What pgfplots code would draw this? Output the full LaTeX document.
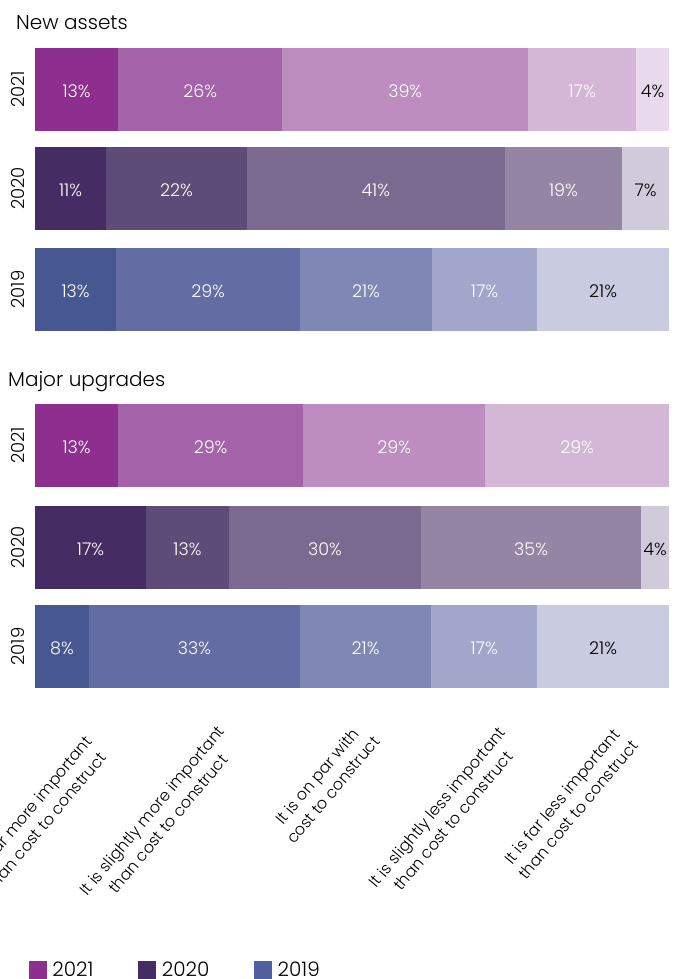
\documentclass[border=0pt]{standalone}
\usepackage{fontspec}
\setmainfont{Poppins}[UprightFont={* Light}]
\usepackage{pgfplots}
\pgfplotsset{compat=1.18}
\definecolor{c21a}{HTML}{8E2E8E}
\definecolor{c21b}{HTML}{A463A8}
\definecolor{c21c}{HTML}{BD8DBF}
\definecolor{c21d}{HTML}{D4B6D6}
\definecolor{c21e}{HTML}{E8DAEC}
\definecolor{c20a}{HTML}{452C63}
\definecolor{c20b}{HTML}{5D4B78}
\definecolor{c20c}{HTML}{7B6A8F}
\definecolor{c20d}{HTML}{9485A5}
\definecolor{c20e}{HTML}{D0CBDA}
\definecolor{c19a}{HTML}{465792}
\definecolor{c19b}{HTML}{636CA3}
\definecolor{c19c}{HTML}{7F87B5}
\definecolor{c19d}{HTML}{A3A6CB}
\definecolor{c19e}{HTML}{C9CBE1}
\definecolor{leg19}{HTML}{4F5F9F}
\newcommand\seg[4]{\addplot[fill=#1, draw=none, every node near coord/.append style={text=#2}] coordinates {(#3,0) [#4]};}
\pgfplotsset{baraxis/.style={
  scale only axis, width=634pt, height=83pt, anchor=north west,
  xmin=0, xmax=100, ymin=-0.5, ymax=0.5,
  xbar stacked, bar width=83pt,
  axis line style={draw=none}, xtick=\empty, ytick={0}, yticklabels={#1},
  major tick length=0pt,
  yticklabel style={rotate=90, anchor=south, inner sep=0pt, font=\fontsize{18}{18}\selectfont},
  yticklabel shift=10pt,
  point meta=explicit symbolic,
  nodes near coords={\pgfplotspointmeta\%},
  every node near coord/.append style={anchor=center, yshift=-2pt, font=\fontsize{17.5}{17.5}\selectfont},
}}
\begin{document}
\begin{tikzpicture}
\useasboundingbox (0,0) rectangle (675pt,-979pt);
\node[anchor=base west, font=\fontsize{20}{24}\selectfont, inner sep=0pt] at (16pt,-29.3pt) {New assets};
\node[anchor=base west, font=\fontsize{20}{24}\selectfont, inner sep=0pt] at (8pt,-386pt) {Major upgrades};
% New assets
\begin{axis}[baraxis=2021, at={(35pt,-48pt)}]
\seg{c21a}{white}{13.1}{13}
\seg{c21b}{white}{25.9}{26}
\seg{c21c}{white}{38.8}{39}
\seg{c21d}{white}{17.0}{17}
\seg{c21e}{black}{5.2}{4}
\end{axis}
\begin{axis}[baraxis=2020, at={(35pt,-147pt)}]
\seg{c20a}{white}{11.2}{11}
\seg{c20b}{white}{22.2}{22}
\seg{c20c}{white}{40.7}{41}
\seg{c20d}{white}{18.5}{19}
\seg{c20e}{black}{7.4}{7}
\end{axis}
\begin{axis}[baraxis=2019, at={(35pt,-248pt)}]
\seg{c19a}{white}{12.8}{13}
\seg{c19b}{white}{29.0}{29}
\seg{c19c}{white}{20.8}{21}
\seg{c19d}{white}{16.6}{17}
\seg{c19e}{black}{20.8}{21}
\end{axis}
% Major upgrades
\begin{axis}[baraxis=2021, at={(35pt,-404pt)}]
\seg{c21a}{white}{13.1}{13}
\seg{c21b}{white}{29.2}{29}
\seg{c21c}{white}{28.7}{29}
\seg{c21d}{white}{29.0}{29}
\end{axis}
\begin{axis}[baraxis=2020, at={(35pt,-506pt)}]
\seg{c20a}{white}{17.5}{17}
\seg{c20b}{white}{13.1}{13}
\seg{c20c}{white}{30.3}{30}
\seg{c20d}{white}{34.7}{35}
\seg{c20e}{black}{4.4}{4}
\end{axis}
\begin{axis}[baraxis=2019, at={(35pt,-605pt)},
  legend style={at={(axis description cs:-0.0095,-3.289)}, anchor=north west, draw=none, fill=none, inner sep=0pt, outer sep=0pt,
    legend columns=3, font=\fontsize{20}{20}\selectfont,
    /tikz/every odd column/.append style={column sep=6pt},
    /tikz/every even column/.append style={column sep=45pt},
    nodes={inner sep=0pt}}]
\addlegendimage{legend image code/.code={\fill[c21a] (0pt,-8.5pt) rectangle (17pt,8.5pt);}}
\addlegendentry{2021}
\addlegendimage{legend image code/.code={\fill[c20a] (0pt,-8.5pt) rectangle (17pt,8.5pt);}}
\addlegendentry{2020}
\addlegendimage{legend image code/.code={\fill[leg19] (0pt,-8.5pt) rectangle (17pt,8.5pt);}}
\addlegendentry{2019}
\seg{c19a}{white}{8.5}{8}
\seg{c19b}{white}{33.3}{33}
\seg{c19c}{white}{20.7}{21}
\seg{c19d}{white}{16.7}{17}
\seg{c19e}{black}{20.8}{21}
\end{axis}
\begin{scope}[every node/.style={rotate=50, align=center, font=\fontsize{16}{21}\selectfont, inner sep=0pt}]
\node at (38pt,-815pt) {It is far more important\\than cost to construct};
\node at (160pt,-817pt) {It is slightly more important\\than cost to construct};
\node at (325pt,-783pt) {It is on par with\\cost to construct};
\node at (445pt,-814pt) {It is slightly less important\\than cost to construct};
\node at (570pt,-803pt) {It is far less important\\than cost to construct};
\end{scope}
\end{tikzpicture}
\end{document}
